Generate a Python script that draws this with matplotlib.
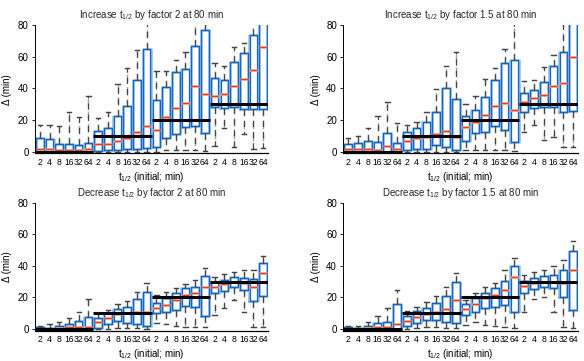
import matplotlib
matplotlib.use("Agg")
import matplotlib.pyplot as plt

plt.rcParams['font.family'] = ['Liberation Sans', 'DejaVu Sans']
plt.rcParams['mathtext.fontset'] = 'custom'
plt.rcParams['mathtext.rm'] = 'Liberation Sans'
plt.rcParams['mathtext.it'] = 'Liberation Sans'

# ---------------- data ----------------
tick_labels = ['2', '4', '8', '16', '32', '64'] * 4
true_delta = [0, 10, 20, 30]
titles = ['Increase t$_{1/2}$ by factor 2 at 80 min',
          'Increase t$_{1/2}$ by factor 1.5 at 80 min',
          'Decrease t$_{1/2}$ by factor 2 at 80 min',
          'Decrease t$_{1/2}$ by factor 1.5 at 80 min']

inc2_lo = [0, 0, 0, 0, 0, 0,  0, 0, 0, 0, 0, 0,  0, 1, 1, 1, 1, 0.5,  3.6, 14.8, 3, 11, 1.7, 2.5]
inc2_q1 = [0, 0, 0, 0, 0, 0,  0.5, 1, 1, 2, 2, 2.5,  3, 8.4, 11, 15.8, 16, 11.6,  28, 27.4, 28, 26.8, 26.8, 27]
inc2_med = [2, 2, 1, 1, 1, 1.5,  4.6, 4.6, 6.7, 8.4, 12.6, 16,  14, 22, 27.4, 31, 41.5, 36.4,  35.4, 36.2, 41.7, 45.7, 51.6, 66]
inc2_q3 = [8.4, 7.8, 5, 5, 4.2, 5.7,  13, 15, 22.5, 29, 45, 64.6,  32.6, 41, 50.5, 52, 66.7, 77,  46.3, 45.3, 56.4, 62.1, 73.7, 95]
inc2_hi = [17, 17, 16, 25, 22, 35,  21, 25, 43, 52.6, 64, 88,  51, 51, 58, 63, 85, 90,  55.8, 54, 66.3, 68.8, 85, 110]

inc15_lo = [0, 0, 0, 0, 0, 0,  0, 0, 0, 0, 0, 0,  1, 1, 1, 1, 1, 0.5,  12.6, 16.8, 7.4, 9.5, 3, 3]
inc15_q1 = [0.5, 0, 0, 0, 0, 0,  1, 2, 2, 4, 3, 1,  7, 12, 12.6, 16, 13.6, 6,  24.8, 27.4, 28, 28, 24.8, 26]
inc15_med = [1.7, 1.7, 1.7, 1, 3.8, 1.7,  6.7, 8.4, 9.5, 11, 13.3, 9.5,  15.8, 18.5, 23, 29, 31, 26.3,  31.6, 33.7, 35.8, 41.7, 43.6, 59.6]
inc15_q3 = [4.8, 5.7, 7, 6.3, 11.6, 5.3,  12.2, 15.2, 18.5, 24.8, 40, 33.3,  22.5, 26.3, 34.7, 45, 55.8, 58,  37.3, 39, 44.2, 54, 63, 95]
inc15_hi = [8.4, 10, 14.7, 22.5, 31.6, 18.3,  16.8, 19, 25.3, 39.4, 54, 62.7,  30, 35.4, 45.7, 52.6, 64.6, 85,  44.6, 45.3, 53.7, 61, 85, 110]

dec2_lo = [0, 0, 0, 0, 0, 0,  0, 0, 0.5, 0.5, 0.5, 0,  3.6, 3.2, 2, 1.5, 1.5, 1,  8.9, 13.5, 18.4, 11, 1.5, 1.5]
dec2_q1 = [0, 0, 0, 0, 0, 0,  0.5, 3, 5, 4, 3, 2,  10, 11, 12, 14.8, 14, 8,  22.6, 24, 26.5, 25, 18, 20.7]
dec2_med = [0.3, 0.3, 0.5, 1, 1, 1.5,  4.2, 7.2, 9.3, 10, 11, 11,  13.5, 15.2, 18.4, 21.5, 22.6, 26.8,  26.8, 28.5, 30, 29, 26.4, 35.7]
dec2_q3 = [1, 0.8, 2, 3.2, 5, 7.8,  7.2, 10.3, 12.4, 14, 18.8, 23.6,  16.7, 19.4, 22.6, 25.7, 26.8, 33.5,  30, 31, 32.7, 32.5, 31.4, 41.6]
dec2_hi = [2, 3, 4.6, 6.7, 10.5, 18.8,  10, 12, 15.6, 18, 23.2, 29.3,  21.5, 23.2, 25.7, 28.5, 31, 38.4,  33, 34.6, 36.3, 37.3, 37.3, 46.2]

dec15_lo = [0, 0, 0, 0, 0, 0,  0, 0.5, 1, 1, 0.5, 0.5,  2.6, 4.2, 2.5, 1.7, 1, 0.5,  11, 19, 20.5, 11, 1, 0.8]
dec15_q1 = [0, 0, 0, 0, 0, 0,  1.7, 3.8, 6, 6, 4.6, 3.6,  8.8, 10.5, 13, 14, 15.4, 11,  23, 25.4, 26.6, 26, 20, 12.2]
dec15_med = [0.3, 0.3, 0.5, 1, 1.5, 3,  4.9, 7.4, 9.5, 11, 12.6, 18.4,  12.6, 15.6, 19.4, 21.7, 24.5, 33,  27, 29, 29.5, 29.5, 29.3, 37.3]
dec15_q3 = [1, 0.8, 2, 4, 4.6, 15.8,  8, 11.2, 13.5, 16.7, 21, 30,  15.8, 19.4, 23, 26, 30.2, 39.8,  30.7, 32.2, 33.4, 34.3, 37.3, 49.4]
dec15_hi = [2, 2, 4.6, 8.2, 13, 24.7,  11.2, 13.9, 17, 21, 26.8, 35.3,  18.4, 22.6, 26.4, 29, 37.6, 44.7,  34, 36.1, 37.6, 40, 44, 56]

panels = [
    (inc2_lo, inc2_q1, inc2_med, inc2_q3, inc2_hi),
    (inc15_lo, inc15_q1, inc15_med, inc15_q3, inc15_hi),
    (dec2_lo, dec2_q1, dec2_med, dec2_q3, dec2_hi),
    (dec15_lo, dec15_q1, dec15_med, dec15_q3, dec15_hi),
]

# ---------------- figure ----------------
W, H = 584, 361
fig = plt.figure(figsize=(W / 100, H / 100), dpi=100)

rects = [
    (35 / W, 0.5753, 233 / W, 0.3554),
    (343.3 / W, 0.5753, 234.7 / W, 0.3554),
    (35 / W, 0.0842, 233 / W, 0.3543),
    (343.3 / W, 0.0842, 234.7 / W, 0.3543),
]

light_blue = '#8dbbe8'
dark_blue = '#1565c0'
positions = list(range(1, 25))

for rect, title, data in zip(rects, titles, panels):
    ax = fig.add_axes(rect)
    lo, q1, med, q3, hi = data
    stats = [dict(whislo=a, q1=b, med=c, q3=d, whishi=e, fliers=[])
             for a, b, c, d, e in zip(lo, q1, med, q3, hi)]
    # light layer
    ax.bxp(stats, positions=positions, widths=0.84, showfliers=False,
           capwidths=0.45,
           boxprops=dict(color=light_blue, linewidth=1.8),
           medianprops=dict(color='#f4a08a', linewidth=1.8),
           whiskerprops=dict(color='#a0a0a0', linewidth=1.0, linestyle=(0, (5, 4))),
           capprops=dict(color='#a0a0a0', linewidth=1.0))
    # dark layer
    ax.bxp(stats, positions=positions, widths=0.78, showfliers=False,
           capwidths=0.45,
           boxprops=dict(color=dark_blue, linewidth=0.9),
           medianprops=dict(color='#e8401c', linewidth=0.9),
           whiskerprops=dict(color='#444444', linewidth=0.9, linestyle=(0, (5, 4))),
           capprops=dict(color='#444444', linewidth=0.9))
    for g, tv in enumerate(true_delta):
        ax.hlines(tv, g * 6 + 0.5, g * 6 + 6.5, color='black', linewidth=2.2, zorder=5)

    ax.set_xlim(0.5, 24.5)
    ax.set_ylim(-1, 80)
    ax.set_yticks([0, 20, 40, 60, 80])
    ax.set_xticks(positions)
    ax.set_xticklabels(tick_labels, fontsize=6.2)
    ax.tick_params(axis='y', labelsize=7, direction='out', length=2.5, width=0.6, pad=2)
    ax.tick_params(axis='x', length=0, pad=3.5)
    for s in ['top', 'right']:
        ax.spines[s].set_visible(False)
    ax.spines['left'].set_linewidth(0.7)
    ax.spines['bottom'].set_linewidth(0.9)
    ax.set_title(title, fontsize=7, pad=5, color='#262626')
    ax.set_ylabel('Δ (min)', fontsize=7, labelpad=4)
    ax.set_xlabel('t$_{1/2}$ (initial; min)', fontsize=7, labelpad=2)

fig.savefig('out.png', dpi=100)
